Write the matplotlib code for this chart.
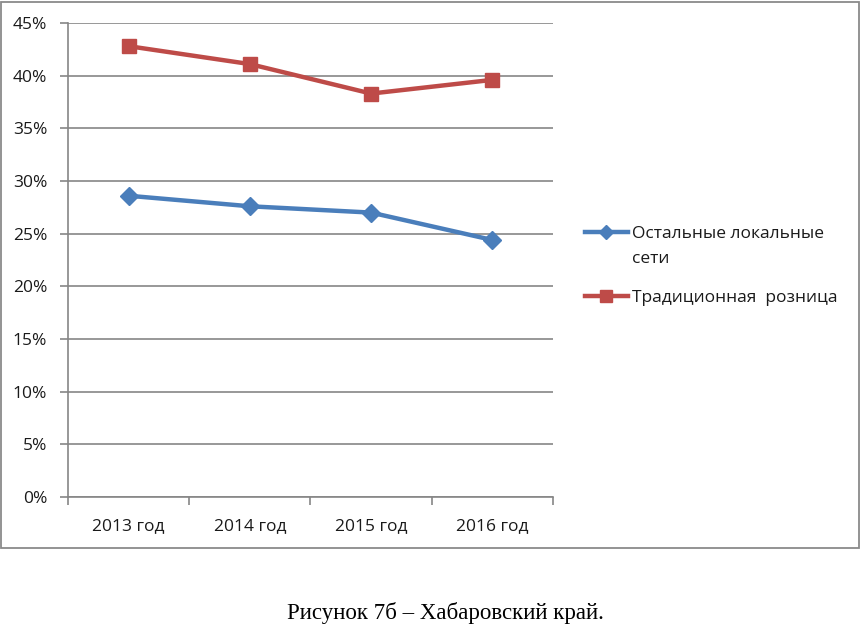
import matplotlib
matplotlib.use("Agg")
import matplotlib.pyplot as plt
from matplotlib.patches import Rectangle
from matplotlib.lines import Line2D
from matplotlib.ticker import FuncFormatter, FixedLocator

categories = ["2013 год", "2014 год", "2015 год", "2016 год"]
other_local = [0.286, 0.276, 0.270, 0.244]
traditional = [0.428, 0.411, 0.383, 0.396]
series_names = ["Остальные локальные\nсети", "Традиционная  розница"]
y_ticks = [0, 0.05, 0.10, 0.15, 0.20, 0.25, 0.30, 0.35, 0.40, 0.45]

BLUE = "#4A7EBB"
RED = "#BE4B48"
GRID = "#868686"
FONT = "Open Sans"
FS = 12.5

fig = plt.figure(figsize=(8.62, 6.28), dpi=100)
fig.patch.set_facecolor("white")

# outer chart border
fig.add_artist(Rectangle((1/862, 1 - 548/628), 858/862, 546/628,
                         transform=fig.transFigure, fill=False,
                         edgecolor="#8a8a8a", linewidth=1.3))

ax = fig.add_axes([68/862, 1 - 497/628, (553 - 68)/862, (497 - 23)/628])
x = list(range(len(categories)))
l1, = ax.plot(x, other_local, color=BLUE, lw=3.2, marker="D", markersize=9,
              markerfacecolor=BLUE, markeredgecolor=BLUE)
l2, = ax.plot(x, traditional, color=RED, lw=3.2, marker="s", markersize=10,
              markerfacecolor=RED, markeredgecolor=RED)

ax.set_xlim(-0.5, len(categories) - 0.5)
ax.set_ylim(0, 0.45)
ax.set_yticks(y_ticks)
ax.yaxis.set_major_formatter(FuncFormatter(lambda v, p: f"{round(v*100):d}%"))
ax.yaxis.grid(True, color=GRID, lw=1.2)
ax.set_axisbelow(True)

ax.xaxis.set_major_locator(FixedLocator([i - 0.5 for i in range(len(categories) + 1)]))
ax.xaxis.set_major_formatter(FuncFormatter(lambda v, p: ""))
ax.xaxis.set_minor_locator(FixedLocator(x))
ax.set_xticklabels(categories, minor=True)
ax.tick_params(axis="x", which="minor", length=0, pad=15, labelsize=FS)
ax.tick_params(axis="x", which="major", length=6, color=GRID, width=1.2, direction="out")
ax.tick_params(axis="y", length=6, color=GRID, width=1.2, direction="out", labelsize=FS, pad=9)

for lab in ax.get_xticklabels(minor=True) + ax.get_yticklabels():
    lab.set_fontfamily(FONT)
    lab.set_color("#1a1a1a")

for s in ["top", "right"]:
    ax.spines[s].set_visible(False)
ax.spines["left"].set_color(GRID)
ax.spines["left"].set_linewidth(1.2)
ax.spines["bottom"].set_color(GRID)
ax.spines["bottom"].set_linewidth(1.2)

# legend drawn manually so the handle aligns with the first text line
leg_entries = [(l1, 232, series_names[0]), (l2, 296, series_names[1])]
for line, ypix, name in leg_entries:
    yf = 1 - ypix / 628
    fig.add_artist(Line2D([585/862, 628/862], [yf, yf], transform=fig.transFigure,
                          color=line.get_color(), lw=3.2))
    fig.add_artist(Line2D([606.5/862], [yf], transform=fig.transFigure,
                          marker=line.get_marker(), markersize=7 if line.get_marker() == "D" else 8,
                          color=line.get_color(), lw=0))
    fig.text(632/862, yf + 6/628, name, ha="left", va="top",
             fontfamily=FONT, fontsize=FS, color="#1a1a1a", linespacing=1.75)

fig.text(445/862, 1 - 613/628, "Рисунок 7б – Хабаровский край.",
         ha="center", va="center", fontfamily="Liberation Serif", fontsize=16.5)

fig.savefig("out.png", dpi=100, facecolor="white")
